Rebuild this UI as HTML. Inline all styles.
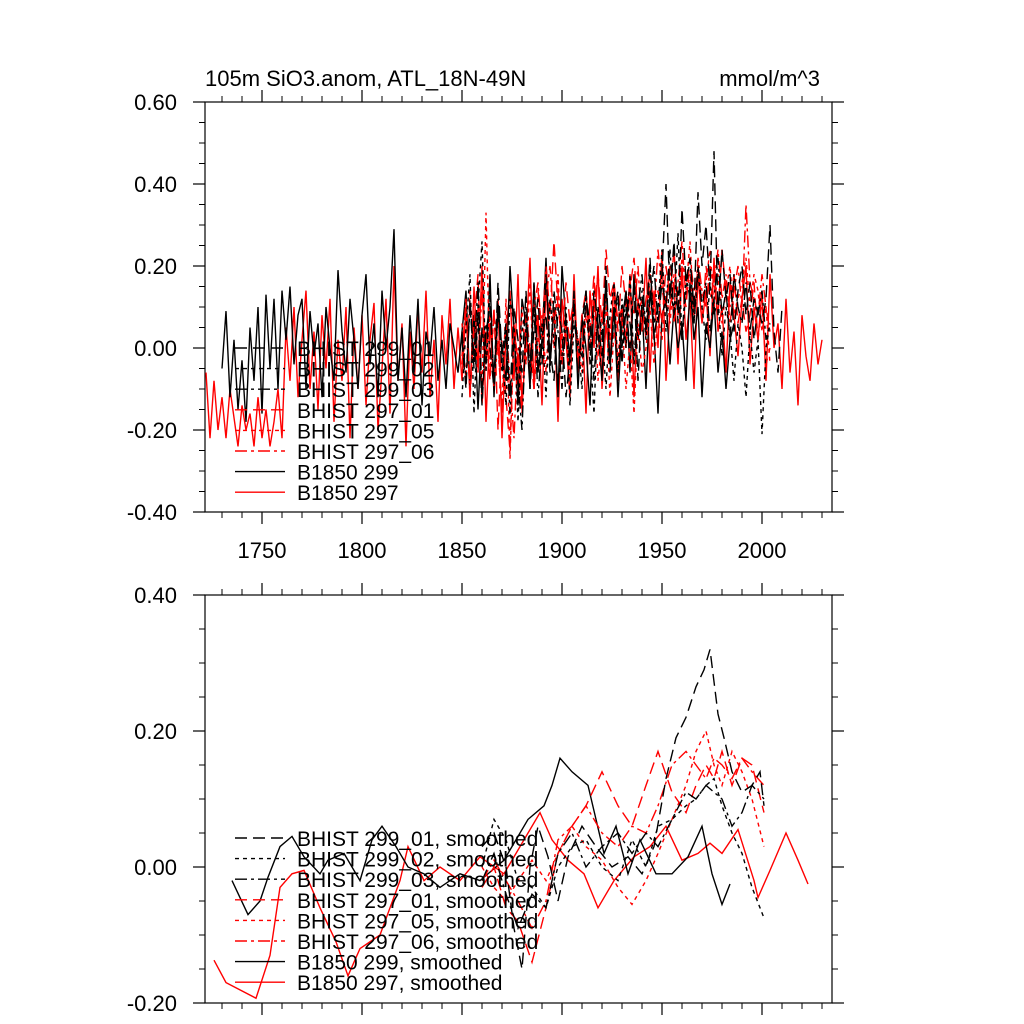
<!DOCTYPE html>
<html><head><meta charset="utf-8"><style>
html,body{margin:0;padding:0;background:#fff;}
svg{display:block;font-family:"Liberation Sans",sans-serif;}
</style></head><body>
<svg id="chart" width="1024" height="1024" viewBox="0 0 1024 1024" xmlns="http://www.w3.org/2000/svg">
<text x="205" y="86" font-size="22">105m SiO3.anom, ATL_18N-49N</text>
<text x="820" y="86" font-size="22" text-anchor="end">mmol/m^3</text>
<g id="top"></g>
<g id="bot"></g>
</svg>
<script>
// ---- data: top panel (annual anomalies) ----
const b1850_297_start = 1722;
const b1850_297 = [-0.06,-0.22,-0.08,-0.20,-0.12,-0.22,-0.10,-0.17,-0.24,-0.14,-0.20,-0.16,-0.24,-0.12,-0.22,-0.15,-0.24,-0.18,-0.10,-0.22,
0.05,-0.08,0.10,-0.12,0.02,0.14,-0.10,0.04,-0.15,0.08,-0.05,0.12,-0.18,0.02,-0.08,0.10,-0.22,0.05,-0.10,0.08,-0.14,0.02,0.11,-0.20,-0.05,0.12,-0.16,0.20,-0.08,0.06,-0.24,0.04,-0.10,0.10,-0.06,0.14,-0.12,0.02,-0.18,0.08,-0.04,0.12,-0.10,0.05,-0.08,
0.10,-0.12,0.15,-0.05,0.20,-0.18,0.06,-0.10,0.12,-0.22,0.04,0.14,-0.08,0.18,-0.15,0.02,0.22,-0.10,0.08,-0.14,0.16,-0.04,0.10,-0.18,0.12,0.02,-0.12,0.18,-0.06,0.08,-0.16,0.14,0.00,0.20,-0.10,0.06,-0.04,0.16,-0.08,0.10,0.02,0.18,-0.12,0.12,0.04,0.22,-0.06,0.14,0.00,0.24,-0.08,0.10,0.16,-0.04,0.20,0.02,0.12,-0.10,0.18,0.06,0.14,-0.02,0.22,0.04,0.10,-0.06,0.16,0.08,-0.02,0.12,0.20,-0.04,0.10,0.02,0.14,-0.08,0.18,0.00,0.06,-0.10,0.12,-0.06,0.04,-0.14,0.08,-0.02,-0.08,0.06,-0.04,0.02];
const b1850_299_start = 1730;
const b1850_299 = [-0.05,0.09,-0.12,0.02,-0.15,-0.03,-0.18,0.05,-0.08,0.10,-0.16,0.13,-0.05,0.12,-0.10,0.14,
0.02,0.15,-0.04,0.08,0.12,-0.10,0.09,-0.02,0.06,-0.12,0.10,0.00,-0.08,0.19,0.04,-0.06,0.12,0.02,-0.10,0.08,0.18,-0.04,0.06,-0.12,0.14,0.00,0.10,0.29,-0.08,0.05,-0.12,0.08,-0.06,0.12,-0.14,0.04,-0.02,0.10,-0.08,0.02,-0.10,0.06,0.00,-0.06,0.04,
0.14,-0.10,0.08,-0.15,0.05,-0.04,0.18,-0.12,0.10,0.00,-0.08,0.20,0.04,-0.14,0.12,0.06,-0.10,0.16,-0.06,0.02,0.22,-0.04,0.10,-0.12,0.20,0.06,-0.02,0.14,-0.10,0.08,0.00,-0.14,0.12,0.04,-0.08,0.16,-0.04,0.10,-0.12,0.06,0.14,-0.06,0.18,0.02,0.10,-0.10,0.14,0.04,-0.16,0.08,0.12,-0.04,0.10,0.00,0.06,-0.08,0.16,0.02,0.10,-0.12,0.06,0.00,0.12,-0.06,0.04,-0.10,0.02,0.06];
const bhist_start = 1850;
const bhist_299_01 = [0.02,-0.10,0.12,-0.05,0.08,-0.14,0.04,0.10,-0.08,0.16,-0.02,0.06,-0.12,0.10,0.02,-0.06,0.14,-0.10,0.05,0.12,-0.04,0.18,0.00,-0.08,0.10,0.04,-0.12,-0.02,0.12,-0.08,0.06,0.14,-0.04,0.14,0.06,-0.02,0.20,-0.06,0.08,0.14,-0.04,0.10,0.00,0.16,-0.08,0.12,0.06,0.22,0.02,0.10,0.18,0.40,0.12,0.26,0.06,0.34,0.16,0.22,0.10,0.38,0.20,0.30,0.14,0.48,0.08,0.24,0.12,0.18,0.04,0.14,0.20,0.08,0.16,0.02,0.10,0.06,0.12,0.30,0.04,-0.06,0.10];
const bhist_299_02 = [-0.12,0.05,0.18,-0.16,0.10,0.26,-0.06,0.14,-0.10,0.08,0.00,-0.14,0.12,0.06,-0.18,0.04,0.10,-0.08,0.16,-0.04,0.06,-0.12,0.12,0.02,-0.08,-0.02,0.10,-0.14,0.06,0.02,-0.10,0.14,0.00,-0.16,0.10,0.04,-0.10,0.08,0.16,-0.06,0.12,0.00,0.18,-0.04,0.08,0.14,0.02,0.20,0.06,0.10,0.24,0.04,0.16,0.08,0.28,0.02,0.14,0.22,0.06,0.18,0.10,0.02,0.16,0.08,0.12,-0.02,0.10,0.04,-0.08,0.06,0.00,-0.12,0.04,-0.06,0.02,-0.21,0.00,0.06];
const bhist_299_03 = [0.04,-0.08,0.10,-0.02,0.16,-0.12,0.06,0.00,-0.10,0.12,-0.06,0.04,-0.16,0.02,-0.08,-0.20,0.06,-0.04,0.10,-0.12,0.02,0.08,-0.06,0.14,0.04,-0.10,0.08,-0.04,0.10,0.00,-0.02,0.12,0.06,-0.08,0.10,0.02,0.16,-0.04,0.08,0.12,0.00,0.14,0.06,-0.02,0.10,0.18,0.04,0.12,0.20,0.06,0.16,0.10,0.24,0.08,0.14,0.02,0.18,0.12,0.06,0.20,0.10,0.16,0.04,0.12,0.22,0.08,0.14,0.02,0.18,0.10,0.06,0.16,0.04,0.12,0.08,0.14,0.02,0.06];
const bhist_297_01 = [-0.02,0.12,-0.10,0.06,0.18,-0.14,0.04,-0.08,0.10,-0.20,0.02,-0.12,-0.25,0.06,-0.04,-0.16,0.08,0.00,-0.10,0.14,0.04,0.20,0.08,0.26,0.10,0.02,0.16,0.06,0.12,-0.04,0.08,0.14,0.00,0.10,0.18,0.06,0.24,0.12,0.16,0.04,0.20,0.10,0.14,0.22,0.08,0.12,0.02,0.18,0.10,0.14,0.06,0.20,0.12,0.24,0.08,0.16,0.10,0.22,0.14,0.18,0.06,0.20,0.12,0.16,0.08,0.24,0.14,0.10,0.18,0.06,0.12,0.04,0.08,0.16,0.02,0.10,-0.04,0.00];
const bhist_297_05 = [0.06,-0.08,0.14,-0.02,0.10,-0.10,0.33,-0.06,0.08,0.00,-0.14,0.12,-0.27,0.04,-0.08,0.10,-0.04,0.16,-0.10,0.02,0.08,-0.06,0.12,0.00,0.18,-0.04,0.06,-0.08,0.10,0.02,-0.06,0.08,0.00,0.12,-0.08,0.02,0.10,-0.12,0.04,-0.02,0.08,-0.10,0.02,-0.16,0.06,-0.06,0.00,0.10,-0.04,0.08,0.02,0.14,0.06,0.18,0.10,0.22,0.14,0.26,0.08,0.20,0.12,0.16,0.24,0.10,0.18,0.06,0.14,0.20,0.08,0.12,0.16,0.22,0.10,0.18,0.14,0.04,0.10,-0.04];
const bhist_297_06 = [-0.04,0.10,-0.12,0.04,-0.06,0.14,-0.02,0.08,-0.10,0.02,-0.16,0.06,-0.08,-0.22,0.00,-0.12,0.04,-0.06,0.10,0.16,0.02,0.12,0.20,0.06,0.14,-0.04,0.08,0.02,0.12,-0.02,0.00,0.10,0.04,0.18,-0.02,0.08,0.12,0.02,0.16,0.06,0.10,0.00,0.14,0.08,0.20,0.04,0.12,0.18,0.08,0.24,0.14,0.10,0.20,0.06,0.16,0.26,0.12,0.18,0.08,0.22,0.14,0.10,0.20,0.16,0.24,0.12,0.18,0.06,0.14,0.20,0.10,0.35,0.16,0.12,0.08,0.18,0.10,0.04];

// ---- data: bottom panel (smoothed) ----
const s297_years = [1726,1732,1747,1754,1759,1765,1771,1779,1787,1793,1799,1809,1819,1823,1831,1839,1849,1859,1871,1879,1889,1895,1903,1911,1918,1926,1936,1944,1952,1960,1968,1974,1980,1988,1996,1998,2004,2012,2018,2023];
const s297_vals = [-0.137,-0.17,-0.193,-0.13,-0.03,-0.01,-0.005,-0.06,-0.11,-0.16,-0.12,-0.10,-0.02,0.03,-0.02,0.0,-0.02,0.015,-0.01,0.03,0.08,0.04,0.01,-0.01,-0.06,-0.02,0.015,0.03,0.06,0.01,0.02,0.035,0.02,0.055,-0.02,-0.045,-0.005,0.05,0.01,-0.025];
const s299_years = [1735,1743,1749,1753,1759,1765,1771,1779,1783,1791,1799,1805,1810,1817,1823,1831,1839,1849,1859,1871,1883,1891,1895,1899,1905,1913,1917,1921,1927,1933,1939,1947,1955,1963,1970,1975,1980,1984];
const s299_vals = [-0.02,-0.07,-0.05,-0.015,0.03,0.045,0.015,-0.01,0.01,0.02,-0.02,0.04,0.06,0.03,0.0,-0.01,-0.03,-0.01,-0.02,0.01,0.07,0.09,0.12,0.16,0.14,0.12,0.07,0.02,0.06,-0.01,0.04,-0.01,-0.01,0.015,0.06,-0.01,-0.055,-0.025];
const sh299_01_years = [1860,1866,1872,1876,1880,1884,1888,1893,1898,1903,1910,1917,1925,1933,1940,1946,1952,1957,1962,1967,1971,1974,1978,1981,1985,1990,1995,1999,2001];
const sh299_01_vals = [0.03,0.05,0.0,-0.09,-0.15,0.0,0.06,0.015,-0.05,0.015,0.06,0.03,0.0,0.015,-0.01,0.03,0.13,0.19,0.22,0.265,0.29,0.32,0.225,0.19,0.14,0.11,0.12,0.14,0.09];
const sh_years = [1860,1866,1872,1878,1885,1892,1898,1905,1912,1920,1928,1935,1942,1948,1955,1962,1967,1972,1976,1980,1985,1990,1995,2001];
const sh299_02_vals = [0.0,0.07,0.04,-0.02,-0.03,-0.06,0.0,0.03,0.04,0.0,-0.02,0.04,0.0,0.06,0.07,0.09,0.1,0.12,0.13,0.09,0.05,0.02,-0.03,-0.075];
const sh299_03_vals = [-0.02,0.02,-0.04,-0.09,-0.04,-0.06,0.02,0.05,0.0,0.03,0.05,0.02,0.05,0.03,0.07,0.11,0.1,0.12,0.11,0.1,0.06,0.08,0.12,0.1];
const sh297_01_vals = [-0.03,0.0,-0.06,-0.08,-0.14,-0.06,0.02,0.06,0.09,0.14,0.09,0.06,0.12,0.17,0.11,0.08,0.12,0.15,0.13,0.17,0.12,0.16,0.15,0.08];
const sh297_05_vals = [0.0,-0.03,-0.05,-0.02,0.01,-0.02,0.02,0.06,0.03,0.01,-0.03,-0.055,-0.02,0.02,0.07,0.12,0.17,0.2,0.15,0.12,0.17,0.14,0.1,0.03];
const sh297_06_vals = [-0.02,0.01,-0.02,-0.05,-0.09,-0.05,0.04,0.06,0.09,0.05,0.03,0.06,0.05,0.09,0.15,0.17,0.15,0.13,0.16,0.15,0.13,0.16,0.14,0.12];

const topYTicks = ["0.60","0.40","0.20","0.00","-0.20","-0.40"];
const botYTicks = ["0.40","0.20","0.00","-0.20"];
const xTickLabels = ["1750","1800","1850","1900","1950","2000"];

// ---- geometry ----
const NS = "http://www.w3.org/2000/svg";
const X0 = 205, X1 = 832, YEAR0 = 1721.5, YEAR1 = 2035;
const xs = y => X0 + (y - YEAR0) * (X1 - X0) / (YEAR1 - YEAR0);
function mk(tag, attrs, parent){const e=document.createElementNS(NS,tag);for(const k in attrs)e.setAttribute(k,attrs[k]);parent.appendChild(e);return e;}

const DASH = {solid:"", dash:"12,6", dot:"4,4", dashdot:"12,4,3,4"};

function panel(g, top, bottom, vmin, vmax, yTickLabels, showX){
  const ys = v => bottom - (v - vmin) * (bottom - top) / (vmax - vmin);
  const frame = mk('rect',{x:X0,y:top,width:X1-X0,height:bottom-top,fill:'none',stroke:'#000','stroke-width':1.2},g);
  
  
  const nMaj = yTickLabels.length;
  const step = (vmax - vmin)/(nMaj-1);
  for(let i=0;i<nMaj;i++){
    const v = vmax - i*step, y = ys(v);
    const t1 = mk('line',{x1:X0-12,x2:X0,y1:y,y2:y,stroke:'#000','stroke-width':1.2},g);
    
    
    mk('line',{x1:X1,x2:X1+12,y1:y,y2:y,stroke:'#000','stroke-width':1.2},g);
    const lab = mk('text',{x:177,y:y+8,'font-size':22,'text-anchor':'end'},g);
    lab.textContent = yTickLabels[i];
    
    
    if(i<nMaj-1){for(let m=1;m<4;m++){const ym=ys(v-m*step/4);
      mk('line',{x1:X0-6,x2:X0,y1:ym,y2:ym,stroke:'#000','stroke-width':1},g);
      mk('line',{x1:X1,x2:X1+6,y1:ym,y2:ym,stroke:'#000','stroke-width':1},g);}}
  }
  for(let yr=1730; yr<=2030; yr+=10){
    const x=xs(yr), maj = yr%50===0, L = maj?12:6;
    mk('line',{x1:x,x2:x,y1:bottom,y2:bottom+L,stroke:'#000','stroke-width':maj?1.2:1},g);
    mk('line',{x1:x,x2:x,y1:top-L,y2:top,stroke:'#000','stroke-width':maj?1.2:1},g);
  }
  if(showX){xTickLabels.forEach(s=>{const t=mk('text',{x:xs(+s),y:bottom+46,'font-size':22,'text-anchor':'middle'},g);t.textContent=s;
    
    });}
  return ys;
}
function seriesStart(g, ys, start, vals, color, dash, name){
  const pts = vals.map((v,i)=>xs(start+2*i).toFixed(1)+','+ys(v).toFixed(1)).join(' ');
  const p = mk('polyline',{points:pts,fill:'none',stroke:color,'stroke-width':1.4,'stroke-dasharray':DASH[dash]},g);
  
  
}
function seriesXY(g, ys, years, vals, color, dash, name){
  const pts = vals.map((v,i)=>xs(years[i]).toFixed(1)+','+ys(v).toFixed(1)).join(' ');
  const p = mk('polyline',{points:pts,fill:'none',stroke:color,'stroke-width':1.4,'stroke-dasharray':DASH[dash]},g);
  
  
}
function legend(g, y0, dy, entries){
  entries.forEach((e,i)=>{const y=y0+i*dy;
    const l = mk('line',{x1:235,x2:285,y1:y,y2:y,stroke:e[1],'stroke-width':1.4,'stroke-dasharray':DASH[e[2]]},g);
    
    
    const t = mk('text',{x:297,y:y+8,'font-size':21},g);
    t.textContent=e[0];
    
    
  });
}

const gt = document.getElementById('top');
const yt = panel(gt, 102, 512, -0.4, 0.6, topYTicks, true);
seriesStart(gt, yt, b1850_297_start, b1850_297, 'red','solid','b1850-297-line');
seriesStart(gt, yt, b1850_299_start, b1850_299, 'black','solid','b1850-299-line');
seriesStart(gt, yt, bhist_start, bhist_297_06, 'red','dashdot','bhist-297-06-line');
seriesStart(gt, yt, bhist_start, bhist_297_05, 'red','dot','bhist-297-05-line');
seriesStart(gt, yt, bhist_start, bhist_297_01, 'red','dash','bhist-297-01-line');
seriesStart(gt, yt, bhist_start, bhist_299_03, 'black','dashdot','bhist-299-03-line');
seriesStart(gt, yt, bhist_start, bhist_299_02, 'black','dot','bhist-299-02-line');
seriesStart(gt, yt, bhist_start, bhist_299_01, 'black','dash','bhist-299-01-line');
legend(gt, 348, 20.6, [["BHIST 299_01","black","dash"],["BHIST 299_02","black","dot"],["BHIST 299_03","black","dashdot"],["BHIST 297_01","red","dash"],["BHIST 297_05","red","dot"],["BHIST 297_06","red","dashdot"],["B1850 299","black","solid"],["B1850 297","red","solid"]]);

const gb = document.getElementById('bot');
const yb = panel(gb, 595, 1003, -0.2, 0.4, botYTicks, false);
seriesXY(gb, yb, s297_years, s297_vals, 'red','solid','b1850-297-smoothed');
seriesXY(gb, yb, s299_years, s299_vals, 'black','solid','b1850-299-smoothed');
seriesXY(gb, yb, sh_years, sh297_06_vals, 'red','dashdot','bhist-297-06-smoothed');
seriesXY(gb, yb, sh_years, sh297_05_vals, 'red','dot','bhist-297-05-smoothed');
seriesXY(gb, yb, sh_years, sh297_01_vals, 'red','dash','bhist-297-01-smoothed');
seriesXY(gb, yb, sh_years, sh299_03_vals, 'black','dashdot','bhist-299-03-smoothed');
seriesXY(gb, yb, sh_years, sh299_02_vals, 'black','dot','bhist-299-02-smoothed');
seriesXY(gb, yb, sh299_01_years, sh299_01_vals, 'black','dash','bhist-299-01-smoothed');
legend(gb, 838, 20.6, [["BHIST 299_01, smoothed","black","dash"],["BHIST 299_02, smoothed","black","dot"],["BHIST 299_03, smoothed","black","dashdot"],["BHIST 297_01, smoothed","red","dash"],["BHIST 297_05, smoothed","red","dot"],["BHIST 297_06, smoothed","red","dashdot"],["B1850 299, smoothed","black","solid"],["B1850 297, smoothed","red","solid"]]);
</script>
</body></html>
